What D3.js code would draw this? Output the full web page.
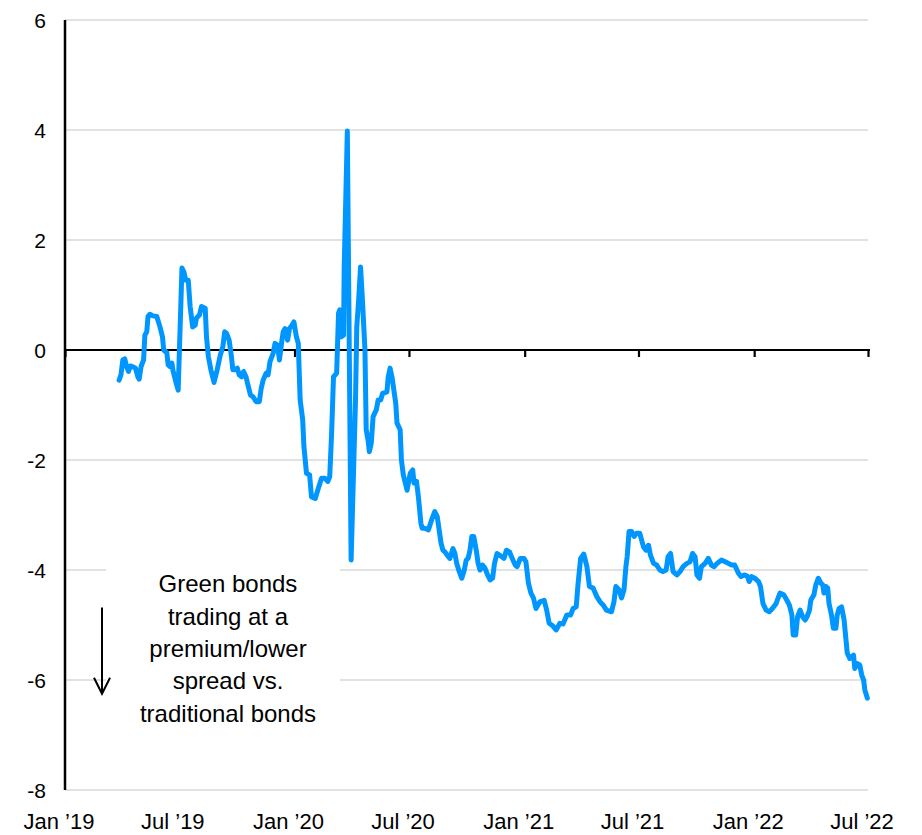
<!DOCTYPE html>
<html>

<head>
    <meta charset="utf-8">
    <style>
        body {
            margin: 0;
            background: #fff;
        }

        svg {
            font-family: "Liberation Sans", Arial, sans-serif;
        }

        .grid line {
            stroke: #d9d9d9;
            stroke-width: 1.3;
        }

        .y-label {
            font-size: 21px;
            fill: #000;
        }

        .x-label {
            font-size: 22px;
            fill: #000;
        }

        .note {
            font-size: 24px;
            fill: #000;
        }
    </style>
</head>

<body>
    <svg width="922" height="835"></svg>

    <script src="https://d3js.org/d3.v7.min.js"></script>
    <script>

        // weekly-ish readings of the green bond spread differential
        let dates = [
            "2019-03-28", "2019-03-31", "2019-04-03", "2019-04-06", "2019-04-09", "2019-04-12", "2019-04-15", "2019-04-20",
            "2019-04-23", "2019-04-27", "2019-04-29", "2019-05-02", "2019-05-06", "2019-05-08", "2019-05-11", "2019-05-13",
            "2019-05-16", "2019-05-21", "2019-05-27", "2019-06-01", "2019-06-05", "2019-06-07", "2019-06-12", "2019-06-14",
            "2019-06-17", "2019-06-20", "2019-06-22", "2019-06-27", "2019-06-30", "2019-07-06", "2019-07-09", "2019-07-12",
            "2019-07-16", "2019-07-19", "2019-07-23", "2019-07-27", "2019-07-29", "2019-08-03", "2019-08-06", "2019-08-12",
            "2019-08-14", "2019-08-17", "2019-08-21", "2019-08-26", "2019-08-31", "2019-09-05", "2019-09-09", "2019-09-12",
            "2019-09-15", "2019-09-19", "2019-09-22", "2019-09-25", "2019-09-28", "2019-10-02", "2019-10-05", "2019-10-09",
            "2019-10-12", "2019-10-16", "2019-10-19", "2019-10-23", "2019-10-27", "2019-11-01", "2019-11-06", "2019-11-09",
            "2019-11-12", "2019-11-17", "2019-11-20", "2019-11-23", "2019-11-28", "2019-12-01", "2019-12-05", "2019-12-08",
            "2019-12-12", "2019-12-14", "2019-12-17", "2019-12-21", "2019-12-24", "2019-12-28", "2019-12-31", "2020-01-04",
            "2020-01-07", "2020-01-10", "2020-01-14", "2020-01-16", "2020-01-20", "2020-01-25", "2020-01-28", "2020-02-03",
            "2020-02-08", "2020-02-13", "2020-02-18", "2020-02-23", "2020-02-26", "2020-02-29", "2020-03-03", "2020-03-08",
            "2020-03-11", "2020-03-13", "2020-03-15", "2020-03-19", "2020-03-20", "2020-03-25", "2020-03-31", "2020-04-07",
            "2020-04-09", "2020-04-12", "2020-04-15", "2020-04-18", "2020-04-22", "2020-04-24", "2020-04-27", "2020-04-29",
            "2020-05-02", "2020-05-05", "2020-05-10", "2020-05-13", "2020-05-17", "2020-05-20", "2020-05-27", "2020-05-29",
            "2020-06-01", "2020-06-04", "2020-06-07", "2020-06-10", "2020-06-12", "2020-06-17", "2020-06-19", "2020-06-22",
            "2020-06-28", "2020-07-03", "2020-07-07", "2020-07-09", "2020-07-13", "2020-07-16", "2020-07-20", "2020-07-22",
            "2020-07-26", "2020-08-01", "2020-08-06", "2020-08-11", "2020-08-15", "2020-08-18", "2020-08-21", "2020-08-24",
            "2020-08-27", "2020-08-31", "2020-09-04", "2020-09-09", "2020-09-12", "2020-09-15", "2020-09-19", "2020-09-23",
            "2020-09-27", "2020-09-30", "2020-10-03", "2020-10-06", "2020-10-09", "2020-10-12", "2020-10-16", "2020-10-19",
            "2020-10-22", "2020-10-26", "2020-10-30", "2020-11-03", "2020-11-07", "2020-11-11", "2020-11-14", "2020-11-18",
            "2020-11-22", "2020-11-26", "2020-11-29", "2020-12-03", "2020-12-08", "2020-12-11", "2020-12-17", "2020-12-20",
            "2020-12-25", "2020-12-31", "2021-01-03", "2021-01-07", "2021-01-11", "2021-01-15", "2021-01-19", "2021-01-25",
            "2021-02-01", "2021-02-05", "2021-02-09", "2021-02-15", "2021-02-20", "2021-02-26", "2021-03-03", "2021-03-09",
            "2021-03-15", "2021-03-19", "2021-03-24", "2021-03-27", "2021-03-31", "2021-04-05", "2021-04-10", "2021-04-14",
            "2021-04-20", "2021-04-26", "2021-05-01", "2021-05-06", "2021-05-11", "2021-05-19", "2021-05-23", "2021-05-26",
            "2021-05-31", "2021-06-04", "2021-06-08", "2021-06-11", "2021-06-13", "2021-06-16", "2021-06-20", "2021-06-24",
            "2021-06-28", "2021-07-03", "2021-07-09", "2021-07-13", "2021-07-17", "2021-07-20", "2021-07-25", "2021-07-30",
            "2021-08-04", "2021-08-09", "2021-08-14", "2021-08-17", "2021-08-21", "2021-08-25", "2021-08-31", "2021-09-05",
            "2021-09-10", "2021-09-16", "2021-09-21", "2021-09-25", "2021-09-29", "2021-10-02", "2021-10-06", "2021-10-09",
            "2021-10-15", "2021-10-20", "2021-10-25", "2021-10-29", "2021-11-03", "2021-11-10", "2021-11-16", "2021-11-21",
            "2021-11-26", "2021-12-01", "2021-12-07", "2021-12-11", "2021-12-16", "2021-12-21", "2021-12-24", "2021-12-28",
            "2022-01-02", "2022-01-08", "2022-01-11", "2022-01-15", "2022-01-20", "2022-01-25", "2022-01-30", "2022-02-05",
            "2022-02-08", "2022-02-11", "2022-02-17", "2022-02-22", "2022-02-26", "2022-03-02", "2022-03-04", "2022-03-08",
            "2022-03-11", "2022-03-15", "2022-03-19", "2022-03-23", "2022-03-26", "2022-03-30", "2022-04-01", "2022-04-06",
            "2022-04-09", "2022-04-13", "2022-04-17", "2022-04-20", "2022-04-22", "2022-04-25", "2022-04-28", "2022-04-30",
            "2022-05-04", "2022-05-07", "2022-05-11", "2022-05-13", "2022-05-16", "2022-05-20", "2022-05-24", "2022-05-27",
            "2022-05-29", "2022-06-02", "2022-06-08", "2022-06-10", "2022-06-14", "2022-06-18", "2022-06-21", "2022-06-24",
            "2022-06-26", "2022-06-30"
        ]

        let spread = [
            -0.55, -0.45, -0.18, -0.16, -0.30, -0.39, -0.29, -0.31,
            -0.33, -0.49, -0.53, -0.30, -0.18, 0.27, 0.33, 0.61,
            0.65, 0.62, 0.61, 0.42, 0.24, 0.00, -0.05, -0.27,
            -0.30, -0.24, -0.39, -0.61, -0.73, 1.49, 1.42, 1.27,
            1.27, 0.79, 0.42, 0.45, 0.58, 0.64, 0.79, 0.76,
            0.24, -0.12, -0.36, -0.59, -0.36, -0.09, 0.06, 0.33,
            0.30, 0.18, -0.06, -0.36, -0.36, -0.33, -0.45, -0.49,
            -0.39, -0.49, -0.64, -0.82, -0.85, -0.94, -0.94, -0.70,
            -0.55, -0.42, -0.45, -0.21, -0.06, 0.12, 0.09, -0.18,
            0.18, 0.33, 0.39, 0.18, 0.39, 0.45, 0.51, 0.24,
            0.12, -0.91, -1.27, -1.76, -2.24, -2.27, -2.67, -2.70,
            -2.51, -2.33, -2.33, -2.39, -2.30, -1.51, -0.49, -0.42,
            0.67, 0.73, 0.24, 0.27, 1.51, 3.98, -3.82, -0.91,
            0.42, 0.91, 1.51, 0.91, 0.00, -1.45, -1.64, -1.85,
            -1.70, -1.21, -1.09, -0.91, -0.91, -0.79, -0.76, -0.49,
            -0.33, -0.49, -0.73, -0.97, -1.33, -1.45, -2.00, -2.27,
            -2.55, -2.24, -2.18, -2.42, -2.39, -2.67, -3.15, -3.24,
            -3.24, -3.27, -3.09, -2.94, -3.03, -3.27, -3.51, -3.64,
            -3.67, -3.73, -3.79, -3.61, -3.70, -3.88, -4.03, -4.15,
            -4.00, -3.82, -3.79, -3.64, -3.39, -3.39, -3.64, -3.88,
            -4.00, -3.91, -3.97, -4.09, -4.18, -4.15, -3.88, -3.70,
            -3.73, -3.76, -3.79, -3.64, -3.67, -3.76, -3.91, -3.94,
            -3.79, -3.79, -3.85, -4.24, -4.42, -4.51, -4.70, -4.58,
            -4.55, -4.73, -4.97, -5.02, -5.09, -4.97, -4.98, -4.82,
            -4.82, -4.70, -4.67, -4.24, -3.79, -3.71, -3.94, -4.30,
            -4.33, -4.49, -4.58, -4.64, -4.73, -4.76, -4.58, -4.30,
            -4.36, -4.51, -4.36, -3.94, -3.76, -3.30, -3.30, -3.39,
            -3.33, -3.33, -3.58, -3.64, -3.55, -3.73, -3.88, -3.91,
            -4.00, -4.03, -4.00, -3.76, -3.70, -4.03, -4.09, -4.03,
            -3.94, -3.88, -3.85, -3.70, -3.76, -4.09, -4.15, -3.94,
            -3.88, -3.79, -3.91, -3.94, -3.88, -3.82, -3.85, -3.88,
            -3.91, -3.91, -4.06, -4.12, -4.09, -4.11, -4.21, -4.12,
            -4.15, -4.21, -4.30, -4.61, -4.73, -4.76, -4.70, -4.61,
            -4.51, -4.42, -4.45, -4.55, -4.64, -4.82, -5.18, -5.18,
            -4.85, -4.73, -4.85, -4.91, -4.85, -4.73, -4.55, -4.45,
            -4.27, -4.15, -4.24, -4.27, -4.42, -4.30, -4.33, -4.61,
            -4.82, -5.06, -5.06, -4.82, -4.70, -4.67, -4.91, -5.27,
            -5.51, -5.61, -5.55, -5.79, -5.70, -5.73, -5.91, -6.00,
            -6.18, -6.33
        ]

        let yTicks = [6, 4, 2, 0, -2, -4, -6, -8]
        let xTickDates = ["2019-01-01", "2019-07-01", "2020-01-01", "2020-07-01",
            "2021-01-01", "2021-07-01", "2022-01-01", "2022-07-01"]
        let xTickLabels = ["Jan \u201919", "Jul \u201919", "Jan \u201920", "Jul \u201920",
            "Jan \u201921", "Jul \u201921", "Jan \u201922", "Jul \u201922"]
        let noteLines = ["Green bonds", "trading at a", "premium/lower", "spread vs.", "traditional bonds"]

        let parse = d3.timeParse("%Y-%m-%d")
        let data = dates.map((d, i) => ({ date: parse(d), value: spread[i] }))
        let tickDates = xTickDates.map(parse)

        let margin = { top: 20, right: 54, bottom: 45, left: 65 }
        let width = 922
        let height = 835

        let svg = d3.select("svg")

        let x = d3.scaleTime()
            .domain([tickDates[0], tickDates[tickDates.length - 1]])
            .range([margin.left, width - margin.right])

        let y = d3.scaleLinear()
            .domain([-8, 6])
            .range([height - margin.bottom, margin.top])

        // gridlines (no line at zero, that one is the black axis)
        svg.append("g")
            .attr("class", "grid")
            .selectAll("line")
            .data(yTicks.filter(d => d !== 0))
            .join("line")
            .attr("x1", x.range()[0])
            .attr("x2", x.range()[1])
            .attr("y1", d => y(d))
            .attr("y2", d => y(d))

        // y labels
        svg.append("g")
            .selectAll("text")
            .data(yTicks)
            .join("text")
            .attr("class", "y-label")
            .attr("x", margin.left - 19)
            .attr("y", d => y(d))
            .attr("dy", "0.36em")
            .attr("text-anchor", "end")
            .text(d => d)

        // x labels
        svg.append("g")
            .selectAll("text")
            .data(tickDates)
            .join("text")
            .attr("class", "x-label")
            .attr("x", d => x(d) - 6)
            .attr("y", height - 6)
            .attr("text-anchor", "middle")
            .text((d, i) => xTickLabels[i])

        // zero line with its date ticks
        let xAxis = d3.axisBottom(x)
            .tickValues(tickDates)
            .tickSize(7)
            .tickSizeOuter(0)
            .tickFormat("")

        svg.append("g")
            .attr("transform", `translate(0, ${y(0)})`)
            .call(xAxis)
            .call(g => g.select(".domain").attr("stroke", "#000").attr("stroke-width", 2.2).attr("d", `M${x.range()[0]},0H${x.range()[1] + 2}`))
            .call(g => g.selectAll(".tick line").attr("stroke", "#000").attr("stroke-width", 2.2))

        // y axis line
        svg.append("line")
            .attr("x1", x.range()[0])
            .attr("x2", x.range()[0])
            .attr("y1", y(6))
            .attr("y2", y(-8))
            .attr("stroke", "#000")
            .attr("stroke-width", 2.5)

        // annotation box covers the gridlines
        svg.append("rect")
            .attr("x", 106)
            .attr("y", y(-3.75))
            .attr("width", 234)
            .attr("height", 172)
            .attr("fill", "#fff")

        svg.append("g")
            .selectAll("text")
            .data(noteLines)
            .join("text")
            .attr("class", "note")
            .attr("x", 228)
            .attr("y", (d, i) => y(-4.25) + i * 32.3)
            .attr("dy", "0.36em")
            .attr("text-anchor", "middle")
            .text(d => d)

        // arrow pointing down
        let arrowX = 102
        svg.append("path")
            .attr("d", `M${arrowX},${y(-4.68)}V${y(-6.25)}M${arrowX - 8},${y(-5.96)}L${arrowX},${y(-6.25)}L${arrowX + 8},${y(-5.96)}`)
            .attr("fill", "none")
            .attr("stroke", "#000")
            .attr("stroke-width", 2)

        // the series
        let line = d3.line()
            .x(d => x(d.date))
            .y(d => y(d.value))

        svg.append("path")
            .datum(data)
            .attr("d", line)
            .attr("fill", "none")
            .attr("stroke", "#0096ff")
            .attr("stroke-width", 5)
            .attr("stroke-linejoin", "round")
            .attr("stroke-linecap", "round")

    </script>
</body>

</html>
